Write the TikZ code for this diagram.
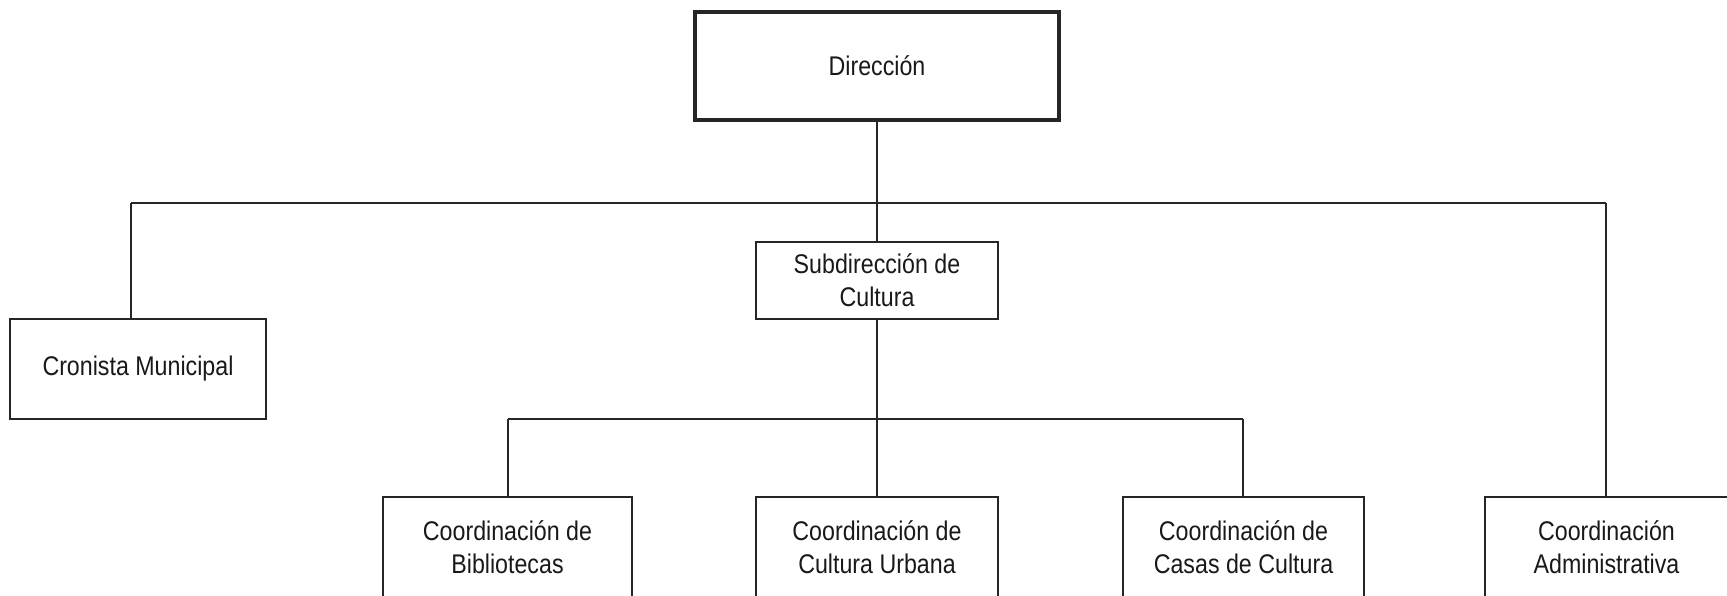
\documentclass[tikz,border=0pt]{standalone}
\usepackage{fontspec}
\setmainfont{Liberation Sans}[FakeStretch=0.86]
\begin{document}
\begin{tikzpicture}[x=1pt,y=-1pt,
  box/.style={draw=black!85,line width=1.5pt,inner sep=0pt,align=center,
    font=\fontsize{27}{33}\selectfont,text=black!90},
  link/.style={draw=black!85,line width=1.5pt}]
\useasboundingbox[fill=white] (0,0) rectangle (1727,595);
\node[box,line width=4pt,minimum width=364pt,minimum height=108pt] (dir) at (877,66) {Dirección};
\node[box,minimum width=242pt,minimum height=77pt] (sub) at (877,280.5) {Subdirección de\\Cultura};
\node[box,minimum width=256pt,minimum height=100pt] (cron) at (138,369) {Cronista Municipal};
\node[box,minimum width=249pt,minimum height=100pt] (bib) at (507.5,547) {Coordinación de\\Bibliotecas};
\node[box,minimum width=242pt,minimum height=100pt] (urb) at (877,547) {Coordinación de\\Cultura Urbana};
\node[box,minimum width=241pt,minimum height=100pt] (cas) at (1243.5,547) {Coordinación de\\Casas de Cultura};
\node[box,minimum width=243pt,minimum height=100pt] (adm) at (1606.5,547) {Coordinación\\Administrativa};
\coordinate (busL) at (131,203);
\coordinate (busR) at (1606,203);
\coordinate (bus2L) at (508,419);
\coordinate (bus2R) at (1243,419);
\path[link] (dir.south) -- (dir.south |- busL) -- (sub.north);
\path[link] (busL) -- (busR);
\path[link] (busL) -- (busL |- cron.north);
\path[link] (busR) -- (busR |- adm.north);
\path[link] (sub.south) -- (urb.north);
\path[link] (bus2L) -- (bus2R);
\path[link] (bus2L) -- (bus2L |- bib.north);
\path[link] (bus2R) -- (bus2R |- cas.north);
\end{tikzpicture}
\end{document}
